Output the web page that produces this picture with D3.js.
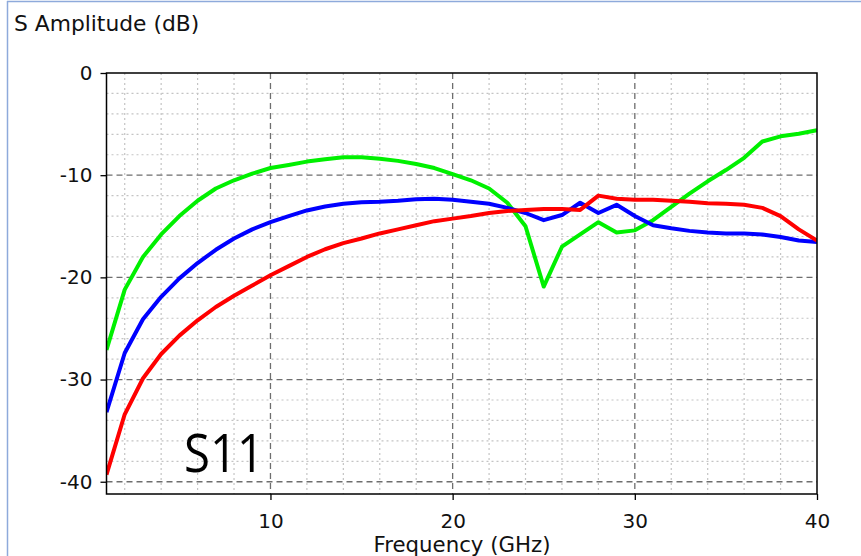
<!DOCTYPE html>
<html>
<head>
<meta charset="utf-8">
<script src="https://cdn.jsdelivr.net/npm/d3@7"></script>
<style>
  body { margin: 0; background: #fff; }
  svg { display: block; }
  .tick text { font-family: "DejaVu Sans", Verdana, sans-serif; font-size: 20px; fill: #111; }
</style>
</head>
<body>
<div id="chart"></div>
<script>
// frequency samples (GHz)
var freqs = [1,2,3,4,5,6,7,8,9,10,11,12,13,14,15,16,17,18,19,20,
             21,22,23,24,25,26,27,28,29,30,31,32,33,34,35,36,37,38,39,40];

// S11 amplitude in dB
var greenDb = [-27.1,-21.2,-18.0,-15.8,-14.0,-12.5,-11.3,-10.5,-9.85,-9.3,
               -9.0,-8.67,-8.45,-8.25,-8.25,-8.4,-8.6,-8.9,-9.3,-9.9,
               -10.5,-11.3,-12.7,-15.0,-20.9,-17.0,-15.8,-14.6,-15.6,-15.4,
               -14.4,-13.1,-11.8,-10.6,-9.5,-8.3,-6.7,-6.2,-5.95,-5.6];
var blueDb = [-33.2,-27.4,-24.1,-21.9,-20.1,-18.6,-17.3,-16.2,-15.3,-14.6,
              -14.0,-13.45,-13.07,-12.8,-12.65,-12.6,-12.5,-12.35,-12.3,-12.4,
              -12.6,-12.8,-13.2,-13.7,-14.4,-13.9,-12.7,-13.7,-12.9,-14.0,
              -14.9,-15.2,-15.45,-15.6,-15.7,-15.7,-15.8,-16.05,-16.4,-16.55];
var redDb = [-39.3,-33.4,-29.9,-27.5,-25.7,-24.2,-22.9,-21.8,-20.8,-19.8,
             -18.9,-18.0,-17.25,-16.65,-16.2,-15.7,-15.3,-14.9,-14.5,-14.25,
             -14.0,-13.7,-13.5,-13.4,-13.3,-13.3,-13.4,-12.0,-12.3,-12.4,
             -12.4,-12.5,-12.6,-12.75,-12.8,-12.9,-13.2,-14.0,-15.3,-16.4];

var xTicks = [10,20,30,40];
var yTicks = [0,-10,-20,-30,-40];

var W = 861, H = 556;
var margin = {top: 73, right: 44, bottom: 62, left: 106.5};
var width = W - margin.left - margin.right;
var height = H - margin.top - margin.bottom;

var svg = d3.select("#chart").append("svg")
    .attr("width", W)
    .attr("height", H);

// thin window border
svg.append("line").attr("x1", 7).attr("x2", W).attr("y1", 1.5).attr("y2", 1.5)
    .attr("stroke", "#8eaadb").attr("stroke-width", 1.5);
svg.append("line").attr("x1", 7.5).attr("x2", 7.5).attr("y1", 1).attr("y2", H)
    .attr("stroke", "#8eaadb").attr("stroke-width", 1.5);

var g = svg.append("g").attr("transform", "translate(" + margin.left + "," + margin.top + ")");

var x = d3.scaleLinear().domain([1, 40]).range([0, width]);
var y = d3.scaleLinear().domain([-41.2, 0]).range([height, 0]);

// minor grid (dotted)
var xMinor = d3.range(2, 40, 2).filter(function(d){ return d % 10 !== 0; });
var yMinor = d3.range(-2, -41, -2).filter(function(d){ return d % 10 !== 0; });

g.selectAll(".vminor").data(xMinor).enter().append("line")
    .attr("x1", function(d){ return x(d); }).attr("x2", function(d){ return x(d); })
    .attr("y1", 0).attr("y2", height)
    .attr("stroke", "#c4c4c4").attr("stroke-width", 1.2).attr("stroke-dasharray", "2,3");
g.selectAll(".hminor").data(yMinor).enter().append("line")
    .attr("x1", 0).attr("x2", width)
    .attr("y1", function(d){ return y(d); }).attr("y2", function(d){ return y(d); })
    .attr("stroke", "#c4c4c4").attr("stroke-width", 1.2).attr("stroke-dasharray", "2,3");

// major grid (dashed)
g.selectAll(".vmajor").data([10,20,30]).enter().append("line")
    .attr("x1", function(d){ return x(d); }).attr("x2", function(d){ return x(d); })
    .attr("y1", 0).attr("y2", height)
    .attr("stroke", "#6e6e6e").attr("stroke-width", 1.3).attr("stroke-dasharray", "6,4");
g.selectAll(".hmajor").data([-10,-20,-30,-40]).enter().append("line")
    .attr("x1", 0).attr("x2", width)
    .attr("y1", function(d){ return y(d); }).attr("y2", function(d){ return y(d); })
    .attr("stroke", "#6e6e6e").attr("stroke-width", 1.3).attr("stroke-dasharray", "6,4");

// curves
g.append("clipPath").attr("id", "clip").append("rect")
    .attr("width", width).attr("height", height);

var line = d3.line()
    .x(function(d){ return x(d[0]); })
    .y(function(d){ return y(d[1]); });

var series = [
  {vals: greenDb, color: "#00f000"},
  {vals: blueDb, color: "#0000ff"},
  {vals: redDb, color: "#ff0000"}
];

g.selectAll(".curve").data(series).enter().append("path")
    .attr("class", "curve")
    .attr("clip-path", "url(#clip)")
    .attr("d", function(s){ return line(d3.zip(freqs, s.vals)); })
    .attr("fill", "none")
    .attr("stroke", function(s){ return s.color; })
    .attr("stroke-width", 4)
    .attr("stroke-linejoin", "round");

// frame
g.append("rect").attr("width", width).attr("height", height)
    .attr("fill", "none").attr("stroke", "#000").attr("stroke-width", 1.5);

// axes (plain hyphen for negatives, as in the original)
var fmt = function(d){ return String(d); };

var yAxis = g.append("g")
    .call(d3.axisLeft(y).tickValues(yTicks).tickFormat(fmt).tickSize(6).tickPadding(8));
yAxis.select(".domain").remove();
yAxis.selectAll(".tick line").attr("stroke", "#000").attr("stroke-width", 1.3);

var xAxis = g.append("g").attr("transform", "translate(0," + height + ")")
    .call(d3.axisBottom(x).tickValues(xTicks).tickFormat(fmt).tickSize(6).tickPadding(14));
xAxis.select(".domain").remove();
xAxis.selectAll(".tick line").attr("stroke", "#000").attr("stroke-width", 1.3);

// labels
svg.append("text")
    .attr("x", 14).attr("y", 31)
    .style("font-family", "'DejaVu Sans', Verdana, sans-serif")
    .style("font-size", "21.8px")
    .attr("fill", "#111")
    .text("S Amplitude (dB)");

svg.append("text")
    .attr("x", 462).attr("y", 552)
    .attr("text-anchor", "middle")
    .style("font-family", "'DejaVu Sans', Verdana, sans-serif")
    .style("font-size", "21.3px")
    .attr("fill", "#111")
    .text("Frequency (GHz)");

svg.append("text")
    .attr("x", 184).attr("y", 471.5)
    .attr("textLength", 80)
    .attr("lengthAdjust", "spacingAndGlyphs")
    .style("font-family", "'Open Sans', 'Noto Sans', sans-serif")
    .style("font-size", "53px")
    .attr("fill", "#000")
    .text("S11");
</script>
</body>
</html>
